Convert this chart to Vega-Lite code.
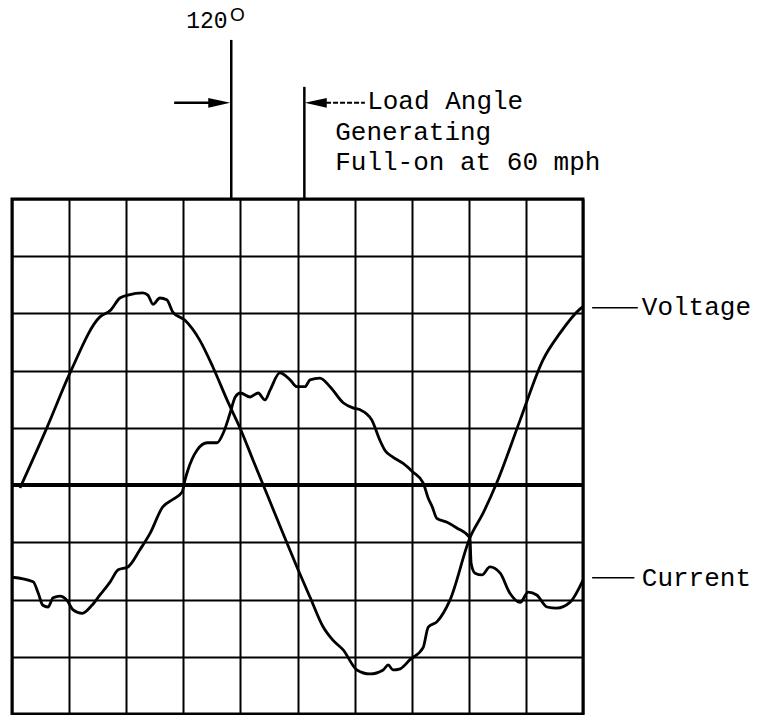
{
  "$schema": "https://vega.github.io/schema/vega-lite/v6.json",
  "width": 571,
  "height": 515,
  "autosize": {"type": "none"},
  "padding": {"left": 12, "top": 199, "right": 175, "bottom": 1},
  "background": "white",
  "config": {
    "view": {"stroke": "black", "strokeWidth": 3},
    "axis": {"grid": true, "gridColor": "black", "gridWidth": 2, "gridOpacity": 1, "domain": false, "ticks": false, "labels": false, "title": null}
  },
  "datasets": {
    "curves": [
      {"series": "Voltage", "x": 0.14, "y": -0.05},
      {"series": "Voltage", "x": 0.61, "y": 1.0},
      {"series": "Voltage", "x": 1.02, "y": 1.97},
      {"series": "Voltage", "x": 1.54, "y": 2.94},
      {"series": "Voltage", "x": 1.72, "y": 3.05},
      {"series": "Voltage", "x": 1.89, "y": 3.27},
      {"series": "Voltage", "x": 2.03, "y": 3.32},
      {"series": "Voltage", "x": 2.29, "y": 3.36},
      {"series": "Voltage", "x": 2.38, "y": 3.32},
      {"series": "Voltage", "x": 2.47, "y": 3.16},
      {"series": "Voltage", "x": 2.59, "y": 3.27},
      {"series": "Voltage", "x": 2.71, "y": 3.24},
      {"series": "Voltage", "x": 2.82, "y": 3.02},
      {"series": "Voltage", "x": 3.03, "y": 2.88},
      {"series": "Voltage", "x": 3.29, "y": 2.53},
      {"series": "Voltage", "x": 3.52, "y": 2.06},
      {"series": "Voltage", "x": 3.77, "y": 1.48},
      {"series": "Voltage", "x": 4.01, "y": 0.96},
      {"series": "Voltage", "x": 4.22, "y": 0.44},
      {"series": "Voltage", "x": 4.47, "y": -0.17},
      {"series": "Voltage", "x": 4.72, "y": -0.78},
      {"series": "Voltage", "x": 4.99, "y": -1.43},
      {"series": "Voltage", "x": 5.22, "y": -1.96},
      {"series": "Voltage", "x": 5.45, "y": -2.48},
      {"series": "Voltage", "x": 5.62, "y": -2.71},
      {"series": "Voltage", "x": 5.8, "y": -2.88},
      {"series": "Voltage", "x": 6.04, "y": -3.23},
      {"series": "Voltage", "x": 6.27, "y": -3.3},
      {"series": "Voltage", "x": 6.5, "y": -3.23},
      {"series": "Voltage", "x": 6.59, "y": -3.14},
      {"series": "Voltage", "x": 6.67, "y": -3.23},
      {"series": "Voltage", "x": 6.8, "y": -3.21},
      {"series": "Voltage", "x": 6.97, "y": -3.05},
      {"series": "Voltage", "x": 7.2, "y": -2.84},
      {"series": "Voltage", "x": 7.29, "y": -2.48},
      {"series": "Voltage", "x": 7.44, "y": -2.39},
      {"series": "Voltage", "x": 7.67, "y": -2.01},
      {"series": "Voltage", "x": 8.02, "y": -0.92},
      {"series": "Voltage", "x": 8.25, "y": -0.49},
      {"series": "Voltage", "x": 8.49, "y": 0.04},
      {"series": "Voltage", "x": 8.9, "y": 1.14},
      {"series": "Voltage", "x": 9.3, "y": 2.19},
      {"series": "Voltage", "x": 9.6, "y": 2.66},
      {"series": "Voltage", "x": 9.95, "y": 3.08},
      {"series": "Voltage", "x": 10.0, "y": 3.12},
      {"series": "Current", "x": 0.0, "y": -1.61},
      {"series": "Current", "x": 0.37, "y": -1.69},
      {"series": "Current", "x": 0.46, "y": -1.89},
      {"series": "Current", "x": 0.54, "y": -2.1},
      {"series": "Current", "x": 0.63, "y": -2.13},
      {"series": "Current", "x": 0.72, "y": -1.97},
      {"series": "Current", "x": 0.84, "y": -1.94},
      {"series": "Current", "x": 0.96, "y": -2.01},
      {"series": "Current", "x": 1.07, "y": -2.18},
      {"series": "Current", "x": 1.23, "y": -2.24},
      {"series": "Current", "x": 1.4, "y": -2.1},
      {"series": "Current", "x": 1.54, "y": -1.92},
      {"series": "Current", "x": 1.72, "y": -1.69},
      {"series": "Current", "x": 1.86, "y": -1.48},
      {"series": "Current", "x": 2.03, "y": -1.43},
      {"series": "Current", "x": 2.24, "y": -1.13},
      {"series": "Current", "x": 2.42, "y": -0.84},
      {"series": "Current", "x": 2.64, "y": -0.38},
      {"series": "Current", "x": 2.8, "y": -0.26},
      {"series": "Current", "x": 2.98, "y": -0.12},
      {"series": "Current", "x": 3.03, "y": 0.09},
      {"series": "Current", "x": 3.08, "y": 0.26},
      {"series": "Current", "x": 3.24, "y": 0.61},
      {"series": "Current", "x": 3.42, "y": 0.74},
      {"series": "Current", "x": 3.59, "y": 0.74},
      {"series": "Current", "x": 3.7, "y": 0.91},
      {"series": "Current", "x": 3.82, "y": 1.26},
      {"series": "Current", "x": 3.91, "y": 1.54},
      {"series": "Current", "x": 4.0, "y": 1.61},
      {"series": "Current", "x": 4.17, "y": 1.54},
      {"series": "Current", "x": 4.31, "y": 1.61},
      {"series": "Current", "x": 4.43, "y": 1.49},
      {"series": "Current", "x": 4.52, "y": 1.66},
      {"series": "Current", "x": 4.69, "y": 1.96},
      {"series": "Current", "x": 4.87, "y": 1.84},
      {"series": "Current", "x": 4.99, "y": 1.72},
      {"series": "Current", "x": 5.13, "y": 1.72},
      {"series": "Current", "x": 5.22, "y": 1.84},
      {"series": "Current", "x": 5.39, "y": 1.87},
      {"series": "Current", "x": 5.57, "y": 1.72},
      {"series": "Current", "x": 5.8, "y": 1.44},
      {"series": "Current", "x": 5.97, "y": 1.35},
      {"series": "Current", "x": 6.09, "y": 1.32},
      {"series": "Current", "x": 6.3, "y": 1.14},
      {"series": "Current", "x": 6.44, "y": 0.79},
      {"series": "Current", "x": 6.53, "y": 0.61},
      {"series": "Current", "x": 6.67, "y": 0.49},
      {"series": "Current", "x": 6.85, "y": 0.38},
      {"series": "Current", "x": 7.02, "y": 0.23},
      {"series": "Current", "x": 7.2, "y": 0.04},
      {"series": "Current", "x": 7.29, "y": -0.23},
      {"series": "Current", "x": 7.36, "y": -0.38},
      {"series": "Current", "x": 7.44, "y": -0.58},
      {"series": "Current", "x": 7.62, "y": -0.65},
      {"series": "Current", "x": 7.79, "y": -0.75},
      {"series": "Current", "x": 8.02, "y": -0.92},
      {"series": "Current", "x": 8.04, "y": -1.36},
      {"series": "Current", "x": 8.11, "y": -1.54},
      {"series": "Current", "x": 8.23, "y": -1.57},
      {"series": "Current", "x": 8.37, "y": -1.43},
      {"series": "Current", "x": 8.55, "y": -1.54},
      {"series": "Current", "x": 8.72, "y": -1.89},
      {"series": "Current", "x": 8.9, "y": -2.05},
      {"series": "Current", "x": 9.04, "y": -1.87},
      {"series": "Current", "x": 9.19, "y": -1.92},
      {"series": "Current", "x": 9.37, "y": -2.13},
      {"series": "Current", "x": 9.54, "y": -2.15},
      {"series": "Current", "x": 9.77, "y": -2.05},
      {"series": "Current", "x": 10.0, "y": -1.66}
    ]
  },
  "layer": [
    {
      "data": {"values": [{"x": 0, "x2": 10, "y": 0}]},
      "mark": {"type": "rule", "color": "black", "strokeWidth": 4},
      "encoding": {
        "x": {"field": "x", "type": "quantitative", "scale": {"domain": [0, 10], "nice": false, "zero": false}, "axis": {"values": [0, 1, 2, 3, 4, 5, 6, 7, 8, 9, 10]}},
        "x2": {"field": "x2"},
        "y": {"field": "y", "type": "quantitative", "scale": {"domain": [-4, 5], "nice": false, "zero": false}, "axis": {"values": [-4, -3, -2, -1, 0, 1, 2, 3, 4, 5]}}
      }
    },
    {
      "data": {"name": "curves"},
      "mark": {"type": "line", "color": "black", "strokeWidth": 2.8, "interpolate": "monotone"},
      "encoding": {
        "x": {"field": "x", "type": "quantitative", "scale": {"domain": [0, 10], "nice": false, "zero": false}},
        "y": {"field": "y", "type": "quantitative", "scale": {"domain": [-4, 5], "nice": false, "zero": false}},
        "detail": {"field": "series"}
      }
    },
    {
      "data": {"values": [
        {"x": 3.84, "y": 5, "x2": 3.84, "y2": 7.78},
        {"x": 5.12, "y": 5, "x2": 5.12, "y2": 6.96},
        {"x": 2.84, "y": 6.68, "x2": 3.5, "y2": 6.68}
      ]},
      "mark": {"type": "rule", "color": "black", "strokeWidth": 2.5, "clip": false},
      "encoding": {
        "x": {"field": "x", "type": "quantitative", "scale": {"domain": [0, 10], "nice": false, "zero": false}},
        "x2": {"field": "x2"},
        "y": {"field": "y", "type": "quantitative", "scale": {"domain": [-4, 5], "nice": false, "zero": false}},
        "y2": {"field": "y2"}
      }
    },
    {
      "data": {"values": [{"x": 5.5, "y": 6.68, "x2": 6.18, "y2": 6.68}]},
      "mark": {"type": "rule", "color": "black", "strokeWidth": 2, "strokeDash": [5, 2], "clip": false},
      "encoding": {
        "x": {"field": "x", "type": "quantitative", "scale": {"domain": [0, 10], "nice": false, "zero": false}},
        "x2": {"field": "x2"},
        "y": {"field": "y", "type": "quantitative", "scale": {"domain": [-4, 5], "nice": false, "zero": false}},
        "y2": {"field": "y2"}
      }
    },
    {
      "data": {"values": [
        {"x": 10.16, "y": 3.1, "x2": 10.96, "y2": 3.1},
        {"x": 10.16, "y": -1.62, "x2": 10.9, "y2": -1.62}
      ]},
      "mark": {"type": "rule", "color": "black", "strokeWidth": 1.5, "clip": false},
      "encoding": {
        "x": {"field": "x", "type": "quantitative", "scale": {"domain": [0, 10], "nice": false, "zero": false}},
        "x2": {"field": "x2"},
        "y": {"field": "y", "type": "quantitative", "scale": {"domain": [-4, 5], "nice": false, "zero": false}},
        "y2": {"field": "y2"}
      }
    },
    {
      "data": {"values": [{"x": 3.63, "y": 6.68}]},
      "mark": {"type": "point", "shape": "M-1,-0.45L1,0L-1,0.45Z", "size": 484, "filled": true, "color": "black", "opacity": 1, "clip": false},
      "encoding": {
        "x": {"field": "x", "type": "quantitative", "scale": {"domain": [0, 10], "nice": false, "zero": false}},
        "y": {"field": "y", "type": "quantitative", "scale": {"domain": [-4, 5], "nice": false, "zero": false}}
      }
    },
    {
      "data": {"values": [{"x": 5.32, "y": 6.68}]},
      "mark": {"type": "point", "shape": "M1,-0.45L-1,0L1,0.45Z", "size": 484, "filled": true, "color": "black", "opacity": 1, "clip": false},
      "encoding": {
        "x": {"field": "x", "type": "quantitative", "scale": {"domain": [0, 10], "nice": false, "zero": false}},
        "y": {"field": "y", "type": "quantitative", "scale": {"domain": [-4, 5], "nice": false, "zero": false}}
      }
    },
    {
      "data": {"values": [
        {"x": 6.22, "y": 6.57, "label": "Load Angle"},
        {"x": 5.66, "y": 6.03, "label": "Generating"},
        {"x": 5.66, "y": 5.51, "label": "Full-on at 60 mph"},
        {"x": 11.03, "y": 2.97, "label": "Voltage"},
        {"x": 11.03, "y": -1.76, "label": "Current"}
      ]},
      "mark": {"type": "text", "font": "Liberation Mono", "fontSize": 26, "align": "left", "baseline": "alphabetic", "color": "black", "clip": false},
      "encoding": {
        "x": {"field": "x", "type": "quantitative", "scale": {"domain": [0, 10], "nice": false, "zero": false}},
        "y": {"field": "y", "type": "quantitative", "scale": {"domain": [-4, 5], "nice": false, "zero": false}},
        "text": {"field": "label"}
      }
    },
    {
      "data": {"values": [{"x": 3.05, "y": 7.99, "label": "120"}]},
      "mark": {"type": "text", "font": "Liberation Mono", "fontSize": 23, "align": "left", "baseline": "alphabetic", "color": "black", "clip": false},
      "encoding": {
        "x": {"field": "x", "type": "quantitative", "scale": {"domain": [0, 10], "nice": false, "zero": false}},
        "y": {"field": "y", "type": "quantitative", "scale": {"domain": [-4, 5], "nice": false, "zero": false}},
        "text": {"field": "label"}
      }
    },
    {
      "data": {"values": [{"x": 3.82, "y": 8.11, "label": "O"}]},
      "mark": {"type": "text", "font": "Liberation Sans", "fontSize": 19, "align": "left", "baseline": "alphabetic", "color": "black", "clip": false},
      "encoding": {
        "x": {"field": "x", "type": "quantitative", "scale": {"domain": [0, 10], "nice": false, "zero": false}},
        "y": {"field": "y", "type": "quantitative", "scale": {"domain": [-4, 5], "nice": false, "zero": false}},
        "text": {"field": "label"}
      }
    }
  ]
}
